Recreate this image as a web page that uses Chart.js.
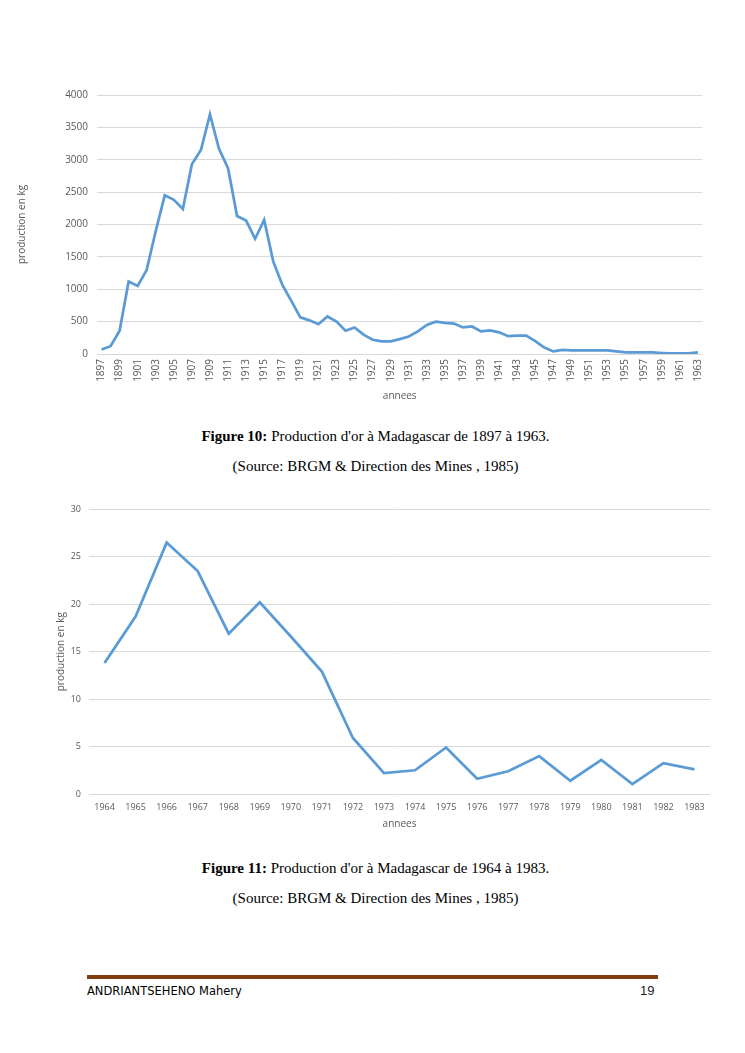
<!DOCTYPE html>
<html>
<head>
<meta charset="utf-8">
<script src="https://cdn.jsdelivr.net/npm/chart.js@4"></script>
<style>
  body { margin: 0; background: #fff; width: 745px; height: 1053px; position: relative; overflow: hidden; }
  .box { position: absolute; }
  .caption { position: absolute; left: 3px; width: 745px; text-align: center; font-family: "Liberation Serif", serif; font-size: 15px; color: #000; }
  .rule { position: absolute; left: 87px; top: 975px; width: 571px; height: 4px; background: #843c0c; }
  .author { position: absolute; left: 87px; top: 984px; font-family: "Comic Sans MS", "DejaVu Sans", sans-serif; font-size: 11.5px; color: #000; }
  .page { position: absolute; left: 640px; top: 983px; font-family: "Liberation Sans", sans-serif; font-size: 13px; color: #222; }
</style>
</head>
<body>

<div class="box" style="left:10px; top:80px; width:705px; height:326px;"><canvas id="chart-early"></canvas></div>
<div class="caption" style="top:428px;"><b>Figure 10:</b> Production d'or à Madagascar de 1897 à 1963.</div>
<div class="caption" style="top:458px;">(Source: BRGM &amp; Direction des Mines , 1985)</div>

<div class="box" style="left:45px; top:496px; width:670px; height:344px;"><canvas id="chart-late"></canvas></div>
<div class="caption" style="top:860px;"><b>Figure 11:</b> Production d'or à Madagascar de 1964 à 1983.</div>
<div class="caption" style="top:890px;">(Source: BRGM &amp; Direction des Mines , 1985)</div>

<div class="rule"></div>
<div class="author">ANDRIANTSEHENO Mahery</div>
<div class="page">19</div>

<script>
// production en kg, 1897 - 1963
const yearsEarly = [];
for (let y = 1897; y <= 1963; y++) yearsEarly.push(String(y));
const prodEarly = [
  70, 120, 360, 1120, 1050, 1300, 1900, 2450, 2380, 2240,
  2930, 3150, 3700, 3170, 2870, 2130, 2060, 1780, 2070, 1430,
  1070, 820, 565, 520, 460, 580, 500, 360, 410, 300,
  220, 195, 195, 230, 270, 350, 450, 500, 480, 470,
  410, 425, 350, 365, 335, 275, 285, 285, 200, 100,
  40, 65, 55, 55, 55, 55, 55, 40, 25, 25,
  25, 25, 15, 8, 8, 8, 25
];

// production en kg, 1964 - 1983
const yearsLate = [];
for (let y = 1964; y <= 1983; y++) yearsLate.push(String(y));
const prodLate = [
  13.8, 18.7, 26.5, 23.5, 16.9, 20.2, 16.6, 12.9, 5.9, 2.2,
  2.5, 4.9, 1.6, 2.4, 4.0, 1.4, 3.6, 1.05, 3.25, 2.6
];

const lineColor = "#5b9bd5";
const textColor = "#595959";
const gridColor = "#d9d9d9";
const axisFont = "'Open Sans', sans-serif";

Chart.defaults.animation = false;

const makeChart = (id, labels, values, opt) => {
  const ctx = document.getElementById(id);
  new Chart(ctx, {
    type: "line",
    data: {
      labels: labels,
      datasets: [
        {
          data: values,
          borderColor: lineColor,
          borderWidth: 2.75,
          pointRadius: 0,
          tension: 0,
        },
      ],
    },
    options: {
      responsive: true,
      maintainAspectRatio: false,
      layout: { padding: opt.padding },
      plugins: {
        legend: { display: false },
        tooltip: { enabled: false },
      },
      scales: {
        x: {
          offset: true,
          grid: { display: false, drawTicks: false },
          border: { display: false },
          ticks: {
            autoSkip: false,
            minRotation: opt.rotation,
            maxRotation: opt.rotation,
            padding: opt.xTickPad,
            color: textColor,
            font: { family: axisFont, size: opt.xTickSize },
            callback: function (val, i) {
              return i % opt.every === 0 ? this.getLabelForValue(val) : "";
            },
          },
          title: {
            display: true,
            text: "annees",
            color: textColor,
            font: { family: axisFont, size: 10 },
            padding: { top: 0, bottom: opt.xTitlePad },
          },
          afterFit: (axis) => { axis.height = opt.xHeight; },
        },
        y: {
          min: 0,
          max: opt.max,
          grid: { color: gridColor, drawTicks: false },
          border: { display: false },
          ticks: {
            stepSize: opt.step,
            padding: opt.yTickPad,
            color: textColor,
            font: { family: axisFont, size: opt.yTickSize },
            callback: (v) => String(v),
          },
          title: {
            display: true,
            text: "production en kg",
            color: textColor,
            font: { family: axisFont, size: 10 },
            padding: { top: opt.yTitlePad, bottom: 0 },
          },
          afterFit: (axis) => { axis.width = opt.yWidth; },
        },
      },
    },
  });
};

makeChart("chart-early", yearsEarly, prodEarly, {
  padding: { top: 6, right: 8, left: 0, bottom: 0 },
  rotation: 90, every: 2, xTickPad: 5, xTickSize: 10, xTitlePad: 4, xHeight: 52,
  max: 4000, step: 500, yTickPad: 9, yTickSize: 10, yTitlePad: 6, yWidth: 87,
});

makeChart("chart-late", yearsLate, prodLate, {
  padding: { top: 5, right: 5, left: 0, bottom: 0 },
  rotation: 0, every: 1, xTickPad: 8, xTickSize: 9, xTitlePad: 10, xHeight: 46,
  max: 30, step: 5, yTickPad: 8, yTickSize: 9, yTitlePad: 10, yWidth: 44,
});
</script>
</body>
</html>
